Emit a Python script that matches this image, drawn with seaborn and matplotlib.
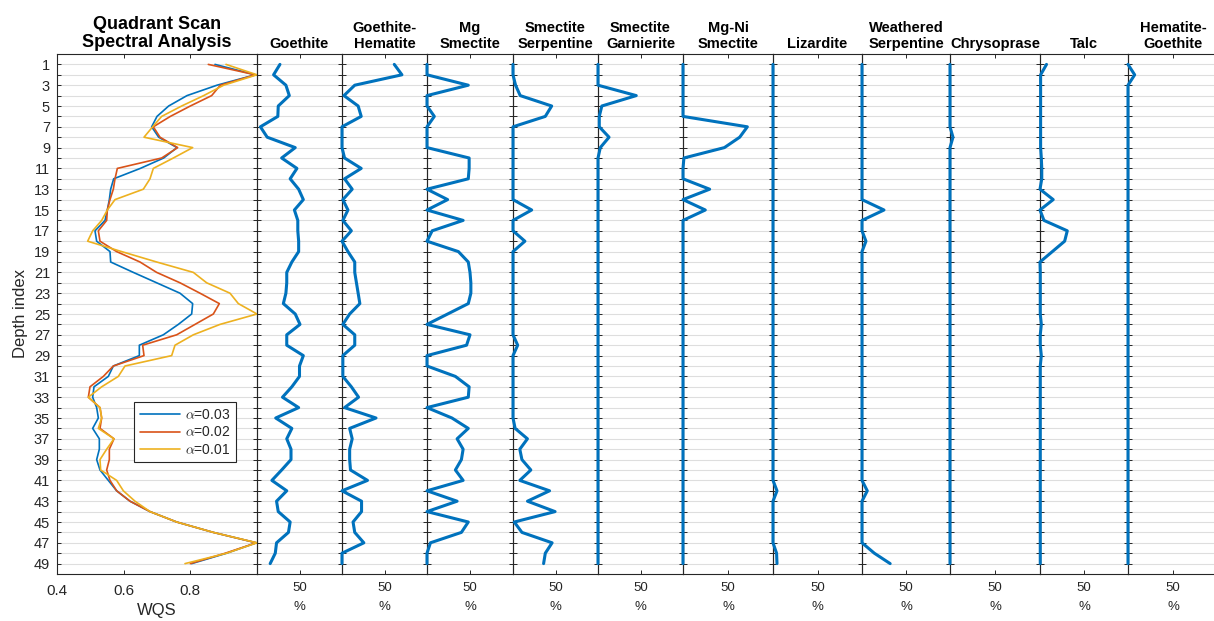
import matplotlib
matplotlib.use("Agg")
import matplotlib.pyplot as plt
import numpy as np
import pandas as pd
import seaborn as sns

sns.set_theme(style="white")
plt.rcParams['font.family'] = ['Liberation Sans', 'DejaVu Sans']
plt.rcParams['mathtext.fontset'] = 'cm'

# ---------------------------------------------------------------- data
depth = list(range(1, 50))

wqs_a003 = [0.874, 0.995, 0.88, 0.79, 0.735, 0.70, 0.684, 0.705, 0.76, 0.72,
            0.65, 0.57, 0.561, 0.557, 0.551, 0.544, 0.514, 0.519, 0.559, 0.561,
            0.629, 0.699, 0.769, 0.807, 0.804, 0.764, 0.719, 0.647, 0.647, 0.569,
            0.554, 0.511, 0.507, 0.519, 0.524, 0.507, 0.527, 0.527, 0.519, 0.529,
            0.554, 0.579, 0.619, 0.679, 0.759, 0.869, 0.998, 0.909, 0.804]
wqs_a002 = [0.854, 0.995, 0.89, 0.864, 0.80, 0.74, 0.689, 0.709, 0.762, 0.714,
            0.581, 0.574, 0.569, 0.559, 0.551, 0.549, 0.524, 0.529, 0.579, 0.649,
            0.699, 0.769, 0.829, 0.887, 0.869, 0.814, 0.759, 0.657, 0.661, 0.569,
            0.539, 0.499, 0.494, 0.529, 0.534, 0.529, 0.571, 0.557, 0.557, 0.549,
            0.559, 0.579, 0.619, 0.679, 0.759, 0.869, 0.998, 0.905, 0.80]
wqs_a001 = [0.907, 1.0, 0.90, 0.84, 0.774, 0.714, 0.687, 0.661, 0.807, 0.749,
            0.689, 0.679, 0.659, 0.574, 0.551, 0.534, 0.507, 0.492, 0.594, 0.699,
            0.809, 0.849, 0.919, 0.944, 1.0, 0.889, 0.809, 0.754, 0.744, 0.604,
            0.584, 0.534, 0.494, 0.529, 0.534, 0.524, 0.571, 0.549, 0.529, 0.531,
            0.579, 0.599, 0.634, 0.679, 0.759, 0.869, 1.0, 0.909, 0.784]
alpha_labels = [r'$\alpha$=0.03', r'$\alpha$=0.02', r'$\alpha$=0.01']

goethite = [27, 19.5, 34, 38, 25, 24.5, 4, 12, 45, 29, 47, 39, 49, 54.5, 44, 48,
            48, 49, 49, 41, 35, 35, 34, 31, 45, 50.6, 35, 35, 54.5, 50, 50, 41,
            30, 49, 22, 41, 35, 40, 40, 29, 17.5, 35, 23, 25, 39, 37, 23, 21.5, 15.5]
goethite_hematite = [61.5, 70.5, 15, 2.3, 19, 22.6, 0, 0, 0, 3, 22.6, 3, 12, 1, 7,
                     1, 11, 0, 7, 15, 15, 17, 19, 21, 9, 1, 15, 15, 1, 1, 1, 11,
                     19.5, 3, 40, 9, 12, 9, 9, 10, 30, 0, 23, 23, 13, 15, 25.7, 0, 0]
mg_smectite = [0, 0, 48, 0, 0, 8.5, 0, 0, 0, 49, 49, 48, 0, 24, 0, 42, 6, 0,
               36.5, 48, 50, 51, 51, 48, 24, 0, 50, 46, 0, 0, 33, 49, 48, 0, 29,
               48, 35, 42, 40, 33, 42, 0, 35, 0, 48, 40, 4, 0, 0]
smectite_serpentine = [0, 0, 3, 8.5, 45.5, 38, 0, 0, 0, 0, 0, 0, 0, 0, 22, 0, 0,
                       14, 0, 0, 0, 0, 0, 0, 0, 0, 0, 5.5, 0, 0, 0, 0, 0, 0, 0,
                       2.5, 17, 8, 10.5, 21, 8, 43, 17, 49.5, 1.5, 10.5, 46, 38, 36]
smectite_garnierite = [0, 0, 0, 45, 4.5, 1.5, 1.5, 13, 2.7, 0, 0, 0, 0, 0, 0, 0,
                       0, 0, 0, 0, 0, 0, 0, 0, 0, 0, 0, 0, 0, 0, 0, 0, 0, 0, 0,
                       0, 0, 0, 0, 0, 0, 0, 0, 0, 0, 0, 0, 0, 0]
mg_ni_smectite = [0, 0, 0, 0, 0, 0, 71.5, 63, 46, 1, 0, 0, 29.6, 0, 24.8, 0, 0,
                  0, 0, 0, 0, 0, 0, 0, 0, 0, 0, 0, 0, 0, 0, 0, 0, 0, 0, 0, 0, 0,
                  0, 0, 0, 0, 0, 0, 0, 0, 0, 0, 0]
lizardite = [0, 0, 0, 0, 0, 0, 0, 0, 0, 0, 0, 0, 0, 0, 0, 0, 0, 0, 0, 0, 0, 0,
             0, 0, 0, 0, 0, 0, 0, 0, 0, 0, 0, 0, 0, 0, 0, 0, 0, 0, 0, 4.5, 0, 0,
             0, 0, 0, 4, 4.5]
weathered_serpentine = [0, 0, 0, 0, 0, 0, 0, 0, 0, 0, 0, 0, 0, 0, 25, 0, 0, 4.5,
                        0, 0, 0, 0, 0, 0, 0, 0, 0, 0, 0, 0, 0, 0, 0, 0, 0, 0, 0,
                        0, 0, 0, 0, 6, 0, 0, 0, 0, 0, 14, 32]
chrysoprase = [0, 0, 0, 0, 0, 0, 0, 3.3, 0, 0, 0, 0, 0, 0, 0, 0, 0, 0, 0, 0, 0,
               0, 0, 0, 0, 0, 0, 0, 0, 0, 0, 0, 0, 0, 0, 0, 0, 0, 0, 0, 0, 0, 0,
               0, 0, 0, 0, 0, 0]
talc = [7.4, 0.7, 0.7, 0.7, 0.7, 0.7, 0.7, 0.7, 0.7, 1.5, 2, 2, 0, 15, 0, 4.5,
        31, 28, 14, 0, 0.3, 0.3, 0.3, 0.3, 0.3, 1.5, 0.3, 0.3, 1.5, 0.3, 0.3,
        0.3, 0.3, 0.3, 0.3, 0.3, 0.3, 0.3, 0.3, 0.3, 0.3, 0.3, 0.3, 0.3, 0.3,
        0.3, 0.3, 0.3, 0.3]
hematite_goethite = [0, 7.4, 0, 0, 0, 0, 0, 0, 0, 0, 0, 0, 0, 0, 0, 0, 0, 0, 0,
                     0, 0, 0, 0, 0, 0, 0, 0, 0, 0, 0, 0, 0, 0, 0, 0, 0, 0, 0, 0,
                     0, 0, 0, 0, 0, 0, 0, 0, 0, 0]

mineral_titles = ["Goethite", "Goethite-\nHematite", "Mg\nSmectite",
                  "Smectite\nSerpentine", "Smectite\nGarnierite", "Mg-Ni\nSmectite",
                  "Lizardite", "Weathered\nSerpentine", "Chrysoprase", "Talc",
                  "Hematite-\nGoethite"]
mineral_values = [goethite, goethite_hematite, mg_smectite, smectite_serpentine,
                  smectite_garnierite, mg_ni_smectite, lizardite,
                  weathered_serpentine, chrysoprase, talc, hematite_goethite]

# ---------------------------------------------------------------- layout
W, H = 1214, 621
fig = plt.figure(figsize=(W / 100, H / 100), dpi=100)
AX_TOP, AX_BOTTOM = 54, 574
DARK = '#262626'
BLUE = '#0072BD'


def add_panel(left, right):
    return fig.add_axes([left / W, 1 - AX_BOTTOM / H, (right - left) / W,
                         (AX_BOTTOM - AX_TOP) / H])


def style_axes(ax):
    ax.set_ylim(50, 0)
    ax.set_yticks(depth)
    ax.set_axisbelow(True)
    ax.yaxis.grid(True, color='#dedede', lw=0.8)
    ax.xaxis.grid(False)
    for sp in ax.spines.values():
        sp.set_visible(True)
        sp.set_color(DARK)
        sp.set_linewidth(0.8)
    ax.tick_params(direction='in', length=3.2, width=0.7, color=DARK,
                   left=True, right=True, top=True, bottom=True,
                   labelcolor=DARK)


# ---- WQS panel
ax0 = add_panel(57, 257)
wqs_df = pd.DataFrame({
    'depth': depth * 3,
    'WQS': wqs_a003 + wqs_a002 + wqs_a001,
    'alpha': [alpha_labels[0]] * 49 + [alpha_labels[1]] * 49 + [alpha_labels[2]] * 49,
})
sns.lineplot(data=wqs_df, x='WQS', y='depth', hue='alpha', orient='y',
             estimator=None, sort=True, palette=[BLUE, '#D95319', '#EDB120'],
             lw=1.2, ax=ax0, clip_on=False, zorder=3)
style_axes(ax0)
ax0.set_xlim(0.4, 1.0)
ax0.set_xticks([0.4, 0.6, 0.8])
ax0.set_xticklabels(['0.4', '0.6', '0.8'])
ax0.set_yticklabels([str(d) if d % 2 == 1 else '' for d in depth])
ax0.tick_params(axis='y', labelsize=10.5, pad=5)
ax0.tick_params(axis='x', labelsize=11, pad=7)
ax0.set_xlabel('WQS', fontsize=12, color=DARK, labelpad=4)
ax0.set_ylabel('Depth index', fontsize=12, color=DARK, labelpad=4)
ax0.set_title('Quadrant Scan\nSpectral Analysis', fontsize=13, fontweight='bold',
              linespacing=1.1, pad=5, color='black')
handles, labels = ax0.get_legend_handles_labels()
ax0.legend(handles, labels, loc='upper left', bbox_to_anchor=(0.385, 0.33),
           frameon=True, fancybox=False, edgecolor=DARK, facecolor='white',
           framealpha=1, fontsize=10, handlelength=2.9, handletextpad=0.35,
           labelspacing=0.25, borderpad=0.4, borderaxespad=0)
ax0.get_legend().get_frame().set_linewidth(0.8)

# ---- mineral panels
lefts = [257, 342, 427, 513, 598, 683, 773, 862, 950, 1040, 1128]
rights = lefts[1:] + [1218]
for left, right, title, values in zip(lefts, rights, mineral_titles, mineral_values):
    ax = add_panel(left, right)
    ax.patch.set_visible(False)
    sns.lineplot(x=values, y=depth, orient='y', estimator=None, sort=True,
                 color=BLUE, lw=2.2, ax=ax, clip_on=False, zorder=3)
    style_axes(ax)
    ax.set_xlim(0, 100)
    ax.set_xticks([50])
    ax.set_xticklabels(['50'])
    ax.tick_params(axis='y', labelleft=False)
    ax.tick_params(axis='x', labelsize=9.5, pad=6)
    ax.set_xlabel('%', fontsize=9.5, color=DARK, labelpad=4.5)
    ax.set_ylabel('')
    ax.set_title(title, fontsize=10.5, fontweight='bold', linespacing=1.2,
                 pad=4.3, color='black')

fig.savefig('out.png', dpi=100)
